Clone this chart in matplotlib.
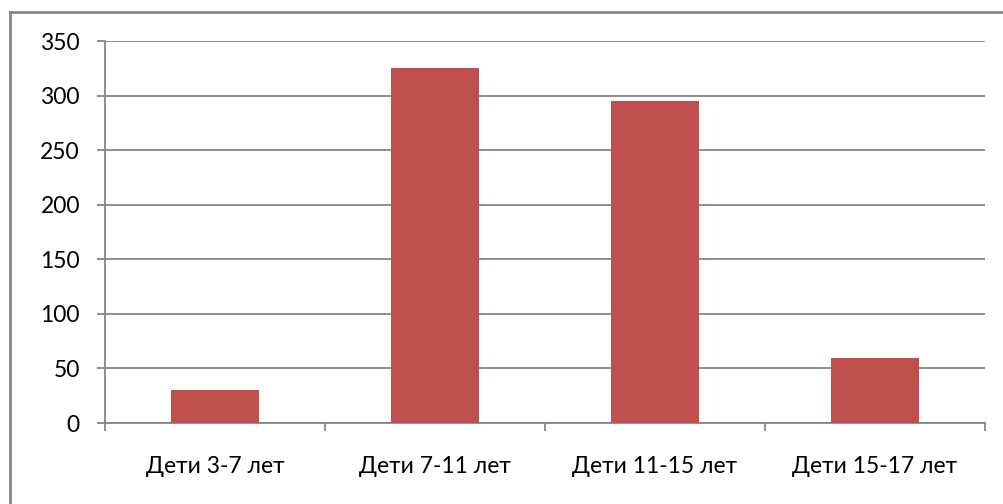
import matplotlib
matplotlib.use("Agg")
import matplotlib.pyplot as plt
from matplotlib.lines import Line2D

categories = ["Дети 3-7 лет", "Дети 7-11 лет", "Дети 11-15 лет", "Дети 15-17 лет"]
values = [30, 325, 295, 60]
yticks = [0, 50, 100, 150, 200, 250, 300, 350]

plt.rcParams['font.family'] = ['Lato', 'DejaVu Sans']

W, H = 1004, 504
fig = plt.figure(figsize=(W / 100, H / 100), dpi=100)

# axes placement in pixels
x0, x1 = 105, 985
y_top, y_bot = 41, 423
ax = fig.add_axes([x0 / W, 1 - y_bot / H, (x1 - x0) / W, (y_bot - y_top) / H])

grid_col = "#868686"
fs = 16.5
ax.bar(range(len(categories)), values, width=0.4, color="#C0504D", zorder=3)
ax.set_xlim(-0.5, len(categories) - 0.5)
ax.set_ylim(0, 350)
ax.set_yticks(yticks)
ax.set_yticklabels([str(v) for v in yticks], fontsize=fs)
ax.yaxis.grid(True, color=grid_col, linewidth=1.3, zorder=0)
ax.set_axisbelow(True)

# x ticks at category boundaries, labels centered
ax.set_xticks([i - 0.5 for i in range(len(categories) + 1)])
ax.set_xticklabels([])
ax.set_xticks(range(len(categories)), minor=True)
ax.set_xticklabels(categories, minor=True, fontsize=fs)
ax.tick_params(axis='x', which='major', length=6, width=1.3, color=grid_col, direction='out')
ax.tick_params(axis='x', which='minor', length=0, pad=24)
ax.tick_params(axis='y', length=6, width=1.3, color=grid_col, direction='out', pad=12)

for s in ["top", "right"]:
    ax.spines[s].set_visible(False)
for s in ["left", "bottom"]:
    ax.spines[s].set_color(grid_col)
    ax.spines[s].set_linewidth(1.3)

# outer chart border (gray), partially cropped at right/bottom
fig.add_artist(Line2D([10 / W, 10 / W], [0, 1 - 12 / H], transform=fig.transFigure,
                      color=grid_col, linewidth=2))
fig.add_artist(Line2D([10 / W, 1], [1 - 12 / H, 1 - 12 / H], transform=fig.transFigure,
                      color=grid_col, linewidth=2))

fig.savefig("out.png", dpi=100)
